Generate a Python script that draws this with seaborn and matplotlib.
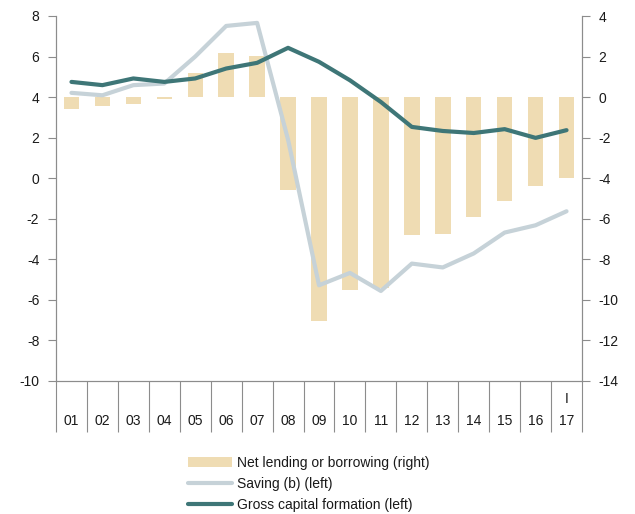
import numpy as np
import matplotlib
matplotlib.use("Agg")
import matplotlib.pyplot as plt
import seaborn as sns

# Data
years = ["01", "02", "03", "04", "05", "06", "07", "08", "09",
         "10", "11", "12", "13", "14", "15", "16", "17"]
year_labels = ["\n" + y for y in years[:-1]] + ["I\n17"]
net_lending = [-0.6, -0.45, -0.36, -0.08, 1.17, 2.18, 2.02, -4.58, -11.03,
               -9.52, -9.4, -6.82, -6.75, -5.9, -5.13, -4.37, -3.98]
saving = [4.21, 4.09, 4.59, 4.67, 6.0, 7.51, 7.66, 1.9, -5.28,
          -4.67, -5.56, -4.21, -4.40, -3.71, -2.68, -2.32, -1.63]
gross_cap = [4.75, 4.59, 4.92, 4.75, 4.92, 5.41, 5.69, 6.43, 5.74,
             4.83, 3.76, 2.53, 2.33, 2.23, 2.42, 1.99, 2.37]

BAR_COLOR = "#efdcb3"
SAVING_COLOR = "#c6d2d8"
GCF_COLOR = "#3e7677"
AXIS_GREY = "#8c8c8c"
TEXT_COLOR = "#1a1a1a"

sns.set_style("white")
plt.rcParams["font.family"] = ["Liberation Sans", "DejaVu Sans"]
plt.rcParams["font.size"] = 10
plt.rcParams["axes.unicode_minus"] = False

pos = np.arange(len(years))

fig = plt.figure(figsize=(6.35, 5.14), dpi=100)
ax_l = fig.add_axes([56 / 635, 133 / 514, 526 / 635, 365 / 514])
ax_r = ax_l.twinx()

# bars on the right axis, drawn behind the lines
sns.barplot(x=pos, y=net_lending, ax=ax_r, color=BAR_COLOR, saturation=1,
            width=0.5, linewidth=0, label="Net lending or borrowing (right)")
sns.lineplot(x=pos, y=saving, ax=ax_l, color=SAVING_COLOR, linewidth=3,
             label="Saving (b) (left)")
sns.lineplot(x=pos, y=gross_cap, ax=ax_l, color=GCF_COLOR, linewidth=3,
             label="Gross capital formation (left)")

ax_r.set_zorder(ax_l.get_zorder() - 1)
ax_l.patch.set_visible(False)
ax_r.patch.set_visible(True)

ax_l.set_ylim(-10, 8)
ax_l.set_yticks(np.arange(-10, 9, 2))
ax_r.set_ylim(-14, 4)
ax_r.set_yticks(np.arange(-14, 5, 2))
ax_l.set_xlim(-0.5, len(years) - 0.5)

# category labels in a "table" below the axis, separated by long minor ticks
ax_l.set_xticks(pos)
ax_l.set_xticklabels(year_labels)
for t in ax_l.get_xticklabels():
    t.set_linespacing(1.75)
ax_l.set_xticks(np.arange(-0.5, len(years), 1), minor=True)
ax_l.tick_params(axis="x", which="major", bottom=True, length=0, pad=8,
                 labelsize=10, labelcolor=TEXT_COLOR)
ax_l.tick_params(axis="x", which="minor", bottom=True, length=37, width=0.8,
                 color=AXIS_GREY)
ax_l.tick_params(axis="y", left=True, length=6, width=0.8, color=AXIS_GREY,
                 labelsize=10, labelcolor=TEXT_COLOR, pad=6)
ax_r.tick_params(axis="y", right=True, length=6, width=0.8, color=AXIS_GREY,
                 labelsize=10, labelcolor=TEXT_COLOR, pad=6)

for a in (ax_l, ax_r):
    a.set_xlabel("")
    a.set_ylabel("")
    a.spines["top"].set_visible(False)
    for s in ("left", "right", "bottom"):
        a.spines[s].set_color(AXIS_GREY)
        a.spines[s].set_linewidth(0.8)
    a.grid(False)

if ax_l.get_legend():
    ax_l.get_legend().remove()
if ax_r.get_legend():
    ax_r.get_legend().remove()

h1, l1 = ax_r.get_legend_handles_labels()
h2, l2 = ax_l.get_legend_handles_labels()
fig.legend(h1 + h2, l1 + l2, loc="upper left",
           bbox_to_anchor=(181 / 635, (514 - 449) / 514),
           frameon=False, fontsize=10, handlelength=3.2, handletextpad=0.3,
           labelspacing=0.5, borderpad=0, labelcolor=TEXT_COLOR)

fig.savefig("out.png", dpi=100)
